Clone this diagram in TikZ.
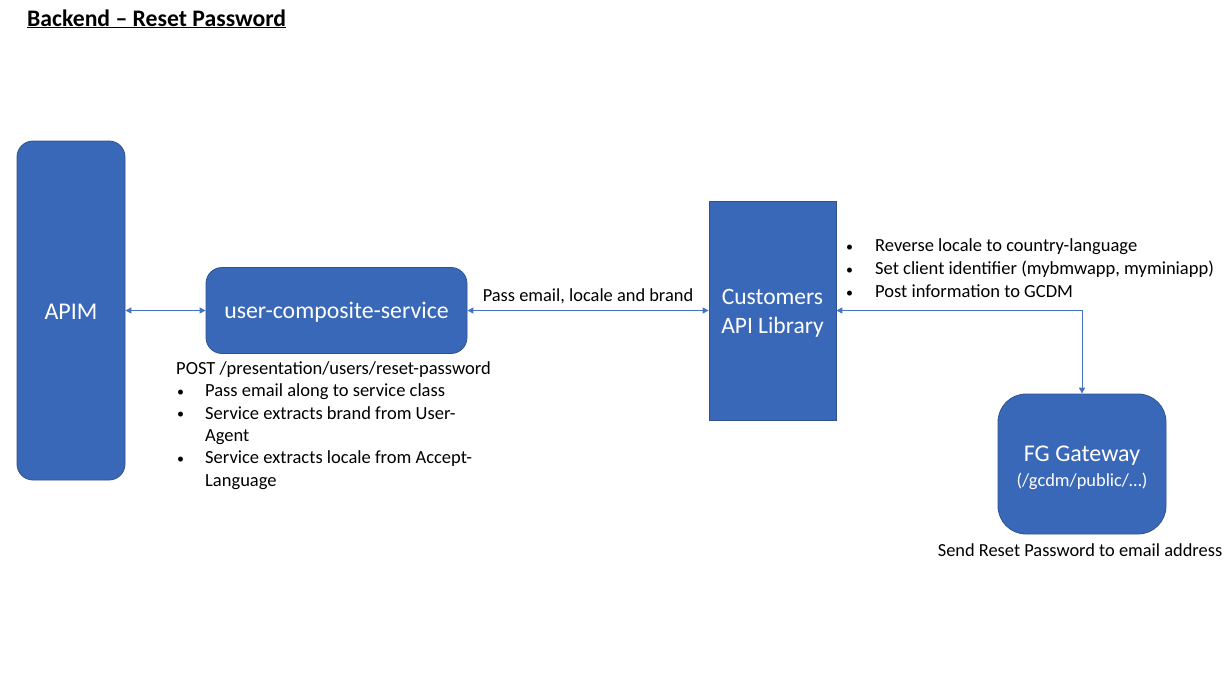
\documentclass[tikz,border=0pt]{standalone}
\usepackage{fontspec}
\setmainfont{Carlito}
\usetikzlibrary{arrows.meta}
\definecolor{boxfill}{RGB}{58,104,184}
\definecolor{boxline}{RGB}{47,82,143}
\definecolor{conncol}{RGB}{68,114,196}
\tikzset{
  bluebox/.style={draw=boxline, line width=0.8pt, fill=boxfill, text=white, align=center, inner sep=0pt},
  whitetext/.style={text=white, inner sep=0pt, align=center},
  conn/.style={draw=conncol, line width=1pt, {Triangle[length=6pt,width=6pt]}-{Triangle[length=6pt,width=6pt]}},
  note/.style={align=left, inner sep=0pt, anchor=base west, text=black},
}
\newcommand{\bul}[1]{\makebox[#1][l]{\hspace*{1pt}\raisebox{0.5pt}{\fontsize{14}{14}\selectfont\textbullet}}}
\begin{document}
\begin{tikzpicture}[x=1pt,y=-1pt]
\useasboundingbox[fill=white] (0,0) rectangle (1227,689);
% title
\node[anchor=base west, inner sep=0pt, font=\fontsize{23.7}{26}\selectfont\bfseries] (title) at (27,26) {\underline{Backend -- Reset Password}};
% boxes
\node[bluebox, rounded corners=16pt, minimum width=108pt, minimum height=339pt] (apim) at (71,310.5) {};
\node[whitetext, font=\fontsize{24}{28}\selectfont] (apimt) at (71,312) {APIM};
\node[bluebox, rounded corners=16pt, minimum width=261pt, minimum height=86pt] (ucs) at (336.5,310.5) {};
\node[whitetext, font=\fontsize{23.8}{28}\selectfont] (ucst) at (336.5,312.5) {user-composite-service};
\node[bluebox, minimum width=127pt, minimum height=219pt] (cal) at (772.5,310.5) {};
\node[whitetext, font=\fontsize{23.5}{29}\selectfont] (calt) at (772.5,313) {Customers\\API Library};
\node[bluebox, rounded corners=28pt, minimum width=168pt, minimum height=140pt] (fg) at (1082,464) {};
\node[whitetext, font=\fontsize{24}{28}\selectfont] (fgt) at (1082,455.5) {FG Gateway};
\node[whitetext, font=\fontsize{18.4}{22}\selectfont] (fgs) at (1082,481.5) {(/gcdm/public/…)};
% connectors
\draw[conn] (apim.east) -- (ucs.west);
\draw[conn] (ucs.east) -- node[above=6pt, inner sep=0pt, font=\fontsize{18.4}{22}\selectfont, text=black] (lbl) {Pass email, locale and brand} (cal.west);
\draw[conn] (cal.east) -| (fg.north);
% notes (anchored at the baseline of their last line)
\node[note, font=\fontsize{18.5}{23}\selectfont] (n1) at (845,297.5) {\bul{30pt}Reverse locale to country-language\\
\bul{30pt}Set client identifier (mybmwapp, myminiapp)\\
\bul{30pt}Post information to GCDM};
\node[note, font=\fontsize{18.5}{22.3}\selectfont] (n2) at (176,486) {POST /presentation/users/reset-password\\
\bul{29pt}Pass email along to service class\\
\bul{29pt}Service extracts brand from User-\\
\hspace*{29pt}Agent\\
\bul{29pt}Service extracts locale from Accept-\\
\hspace*{29pt}Language};
\node[inner sep=0pt, font=\fontsize{18.4}{22}\selectfont] (n3) at (1080,550) {Send Reset Password to email address};
\end{tikzpicture}
\end{document}
